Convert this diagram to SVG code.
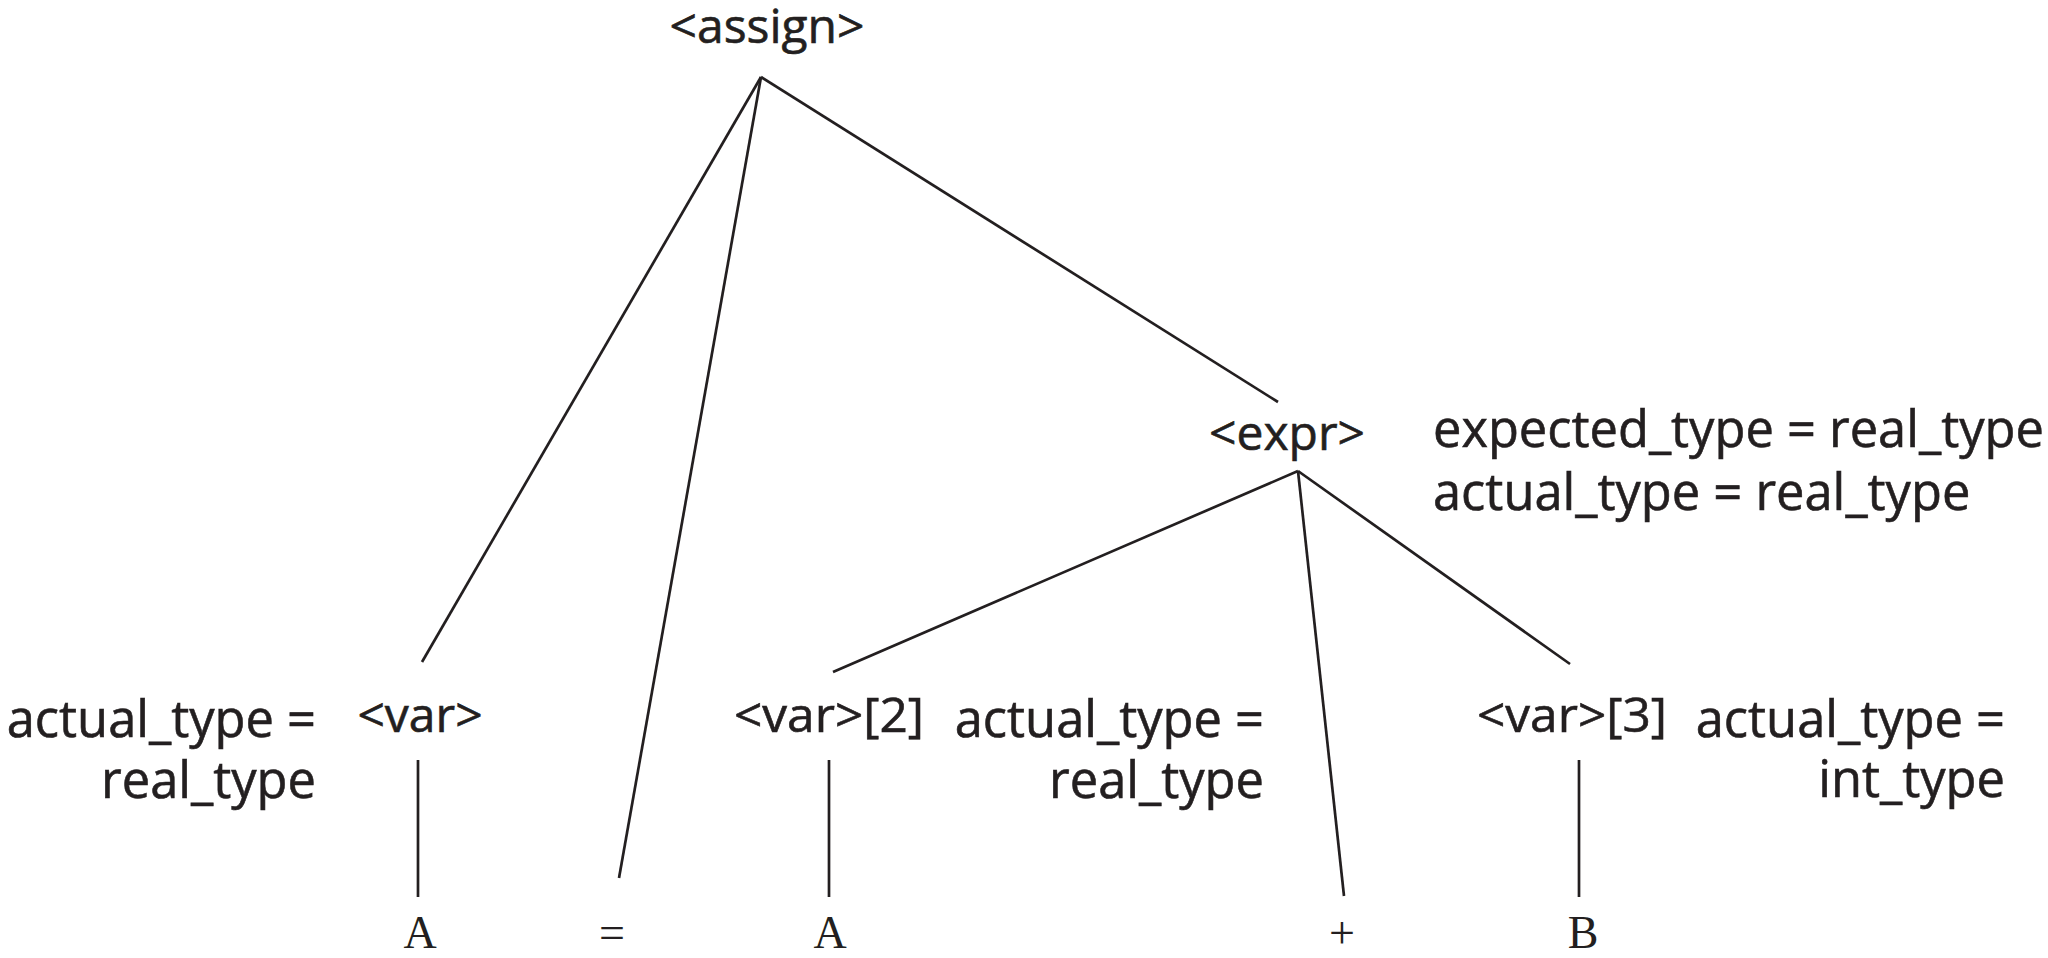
<svg xmlns="http://www.w3.org/2000/svg" width="2048" height="958" viewBox="0 0 2048 958">
<style>
  .bg { fill: #ffffff; }
  .edge { stroke: #231f20; stroke-width: 2.7; stroke-linecap: butt; fill: none; }
  .node { font-family: "Open Sans", "Noto Sans", sans-serif; font-size: 48px; fill: #231f20; stroke: #231f20; stroke-width: 0.6; }
  .attr { font-family: "Open Sans", "Noto Sans", sans-serif; font-size: 50.6px; fill: #231f20; stroke: #231f20; stroke-width: 0.6; }
  .tok { font-family: "Liberation Serif", "DejaVu Serif", serif; font-size: 46px; fill: #231f20; }
  .mid { text-anchor: middle; }
  .end { text-anchor: end; }
</style>
<rect class="bg" x="0" y="0" width="2048" height="958"/>
<g id="connectors">
  <line class="edge" x1="761" y1="77" x2="422" y2="662"/>
  <line class="edge" x1="761" y1="77" x2="619" y2="878"/>
  <line class="edge" x1="761" y1="77" x2="1278" y2="402"/>
  <line class="edge" x1="1298" y1="471" x2="833" y2="672"/>
  <line class="edge" x1="1298" y1="471" x2="1344" y2="896"/>
  <line class="edge" x1="1298" y1="471" x2="1570" y2="664"/>
  <line class="edge" x1="418" y1="760" x2="418" y2="897"/>
  <line class="edge" x1="829" y1="760" x2="829" y2="897"/>
  <line class="edge" x1="1579" y1="760" x2="1579" y2="897"/>
</g>
<g id="node-assign">
  <text class="node mid" x="767" y="43">&lt;assign&gt;</text>
</g>
<g id="node-expr">
  <text class="node mid" x="1287" y="450">&lt;expr&gt;</text>
  <text class="attr" x="1433" y="447">expected_type = real_type</text>
  <text class="attr" x="1433" y="510">actual_type = real_type</text>
</g>
<g id="node-var">
  <text class="node mid" x="420" y="732">&lt;var&gt;</text>
  <text class="attr end" x="316" y="737">actual_type =</text>
  <text class="attr end" x="316" y="798">real_type</text>
</g>
<g id="node-var2">
  <text class="node" x="734" y="732" textLength="190" lengthAdjust="spacingAndGlyphs">&lt;var&gt;[2]</text>
  <text class="attr end" x="1264" y="737">actual_type =</text>
  <text class="attr end" x="1264" y="798">real_type</text>
</g>
<g id="node-var3">
  <text class="node" x="1477" y="732" textLength="190" lengthAdjust="spacingAndGlyphs">&lt;var&gt;[3]</text>
  <text class="attr end" x="2005" y="737">actual_type =</text>
  <text class="attr end" x="2005" y="797">int_type</text>
</g>
<g id="tok-A1"><text class="tok mid" x="420" y="948">A</text></g>
<g id="tok-eq"><text class="tok mid" x="612" y="948">=</text></g>
<g id="tok-A2"><text class="tok mid" x="830" y="948">A</text></g>
<g id="tok-plus"><text class="tok mid" x="1342" y="948">+</text></g>
<g id="tok-B"><text class="tok mid" x="1583" y="948">B</text></g>
</svg>
